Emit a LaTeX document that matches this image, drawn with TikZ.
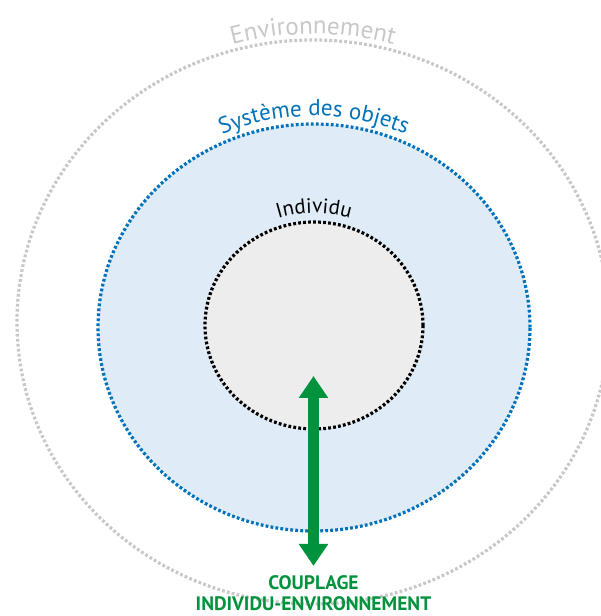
\documentclass[tikz,border=0pt]{standalone}
\usepackage{fontspec}
\setmainfont{PT Sans}
\usetikzlibrary{shapes.geometric, decorations.text, arrows.meta, positioning}
\definecolor{envgris}{RGB}{200,200,200}
\definecolor{objbleu}{RGB}{0,114,188}
\definecolor{objfond}{RGB}{223,235,246}
\definecolor{indfond}{RGB}{237,237,237}
\definecolor{couplvert}{RGB}{0,146,60}

\begin{document}
\begin{tikzpicture}[x=1pt,y=1pt,
    zone/.style={ellipse,inner sep=0pt,line width=3.2pt,dash pattern=on 2.8pt off 2.2pt},
    titre/.style={decorate,decoration={text along path,text align=center,text={#1}}},
    couplage/.style={line width=11pt,draw=couplvert,
      {Triangle[width=28pt,length=22pt]}-{Triangle[width=28pt,length=22pt]}}]
  \useasboundingbox (0,0) rectangle (600,616);

  % les trois zones
  \node[zone,draw=envgris,minimum width=592pt,minimum height=564pt] (env) at (313,294) {};
  \node[zone,draw=objbleu,fill=objfond,minimum width=432pt,minimum height=407pt] (obj) at (314,288.5) {};
  \node[zone,draw=black,fill=indfond,minimum width=218pt,minimum height=207pt] (ind) at (314,290.5) {};

  % noms des zones, le long des arcs
  \path[titre={|\color{envgris}\fontsize{25}{30}\selectfont|Environnement}]
    (env.center) ++(160:302 and 288) arc[start angle=160,end angle=20,x radius=302,y radius=288];
  \path[titre={|\color{objbleu}\fontsize{23}{28}\selectfont|Système des objets}]
    (obj.center) ++(160:224 and 211.5) arc[start angle=160,end angle=20,x radius=224,y radius=211.5];
  \path[titre={|\color{black}\fontsize{21}{26}\selectfont|Individu}]
    (ind.center) ++(160:118 and 112.5) arc[start angle=160,end angle=20,x radius=118,y radius=112.5];

  % couplage
  \coordinate (haut) at (313.5,240);
  \coordinate (bas) at (313.5,50);
  \draw[couplage] (haut) -- (bas);

  \node[font=\bfseries\fontsize{19.5}{21.5}\selectfont,text=couplvert,align=center,inner sep=0pt,anchor=north]
    (lbl) [below=9pt of bas] {COUPLAGE\\INDIVIDU-ENVIRONNEMENT};
\end{tikzpicture}
\end{document}
